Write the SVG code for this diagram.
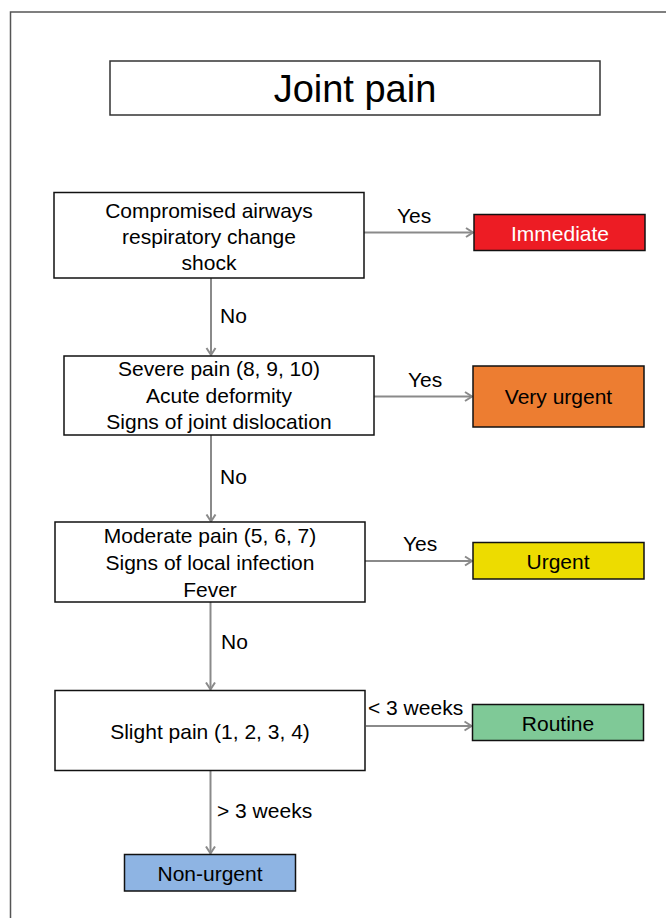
<svg xmlns="http://www.w3.org/2000/svg" width="666" height="918" viewBox="0 0 666 918">
  <style>
    text { font-family: "Liberation Sans", Arial, Helvetica, sans-serif; font-size: 21px; fill: #000; }
    .c { text-anchor: middle; }
    .box { fill: #fff; stroke: #111; stroke-width: 1.5; }
    .out { stroke: #111; stroke-width: 1.5; }
    .conn { stroke: #8a8a8a; stroke-width: 2; fill: none; marker-end: url(#arr); }
    .frame { stroke: #555; stroke-width: 1.5; fill: none; }
  </style>
  <defs>
    <marker id="arr" markerUnits="userSpaceOnUse" markerWidth="10" markerHeight="12" refX="8" refY="6" orient="auto">
      <path d="M1,1.5 L8,6 L1,10.5" fill="none" stroke="#8a8a8a" stroke-width="2"/>
    </marker>
  </defs>
  <rect width="666" height="918" fill="#fff"/>
  <path class="frame" d="M10.5,918 V12 H666"/>

  <g id="title">
    <rect x="110" y="61" width="490" height="54" fill="#fff" stroke="#333" stroke-width="1.5"/>
    <text class="c" x="355" y="102" style="font-size:38px">Joint pain</text>
  </g>

  <g id="connectors">
    <line class="conn" x1="364" y1="232.5" x2="473" y2="232.5"/>
    <line class="conn" x1="211" y1="278" x2="211" y2="355"/>
    <line class="conn" x1="374" y1="396.5" x2="472" y2="396.5"/>
    <line class="conn" x1="211" y1="435" x2="211" y2="521.5"/>
    <line class="conn" x1="365" y1="561" x2="472" y2="561"/>
    <line class="conn" x1="210.5" y1="602" x2="210.5" y2="689.5"/>
    <line class="conn" x1="366" y1="726" x2="471.5" y2="726"/>
    <line class="conn" x1="210.5" y1="770" x2="210.5" y2="853.5"/>
    <text x="397" y="223">Yes</text>
    <text x="220" y="323">No</text>
    <text x="408" y="387">Yes</text>
    <text x="220" y="484">No</text>
    <text x="403" y="551">Yes</text>
    <text x="221" y="649">No</text>
    <text x="368" y="715">&lt; 3 weeks</text>
    <text x="217" y="818">&gt; 3 weeks</text>
  </g>

  <g id="q1">
    <rect class="box" x="54" y="192.5" width="310" height="85.5"/>
    <text class="c" x="209" y="218">Compromised airways</text>
    <text class="c" x="209" y="244">respiratory change</text>
    <text class="c" x="209" y="270">shock</text>
  </g>
  <g id="immediate">
    <rect class="out" x="474" y="214.5" width="171" height="36" fill="#ED1C24"/>
    <text class="c" x="560" y="241" style="fill:#fff">Immediate</text>
  </g>

  <g id="q2">
    <rect class="box" x="64" y="356" width="310" height="79"/>
    <text class="c" x="219" y="376">Severe pain (8, 9, 10)</text>
    <text class="c" x="219" y="403">Acute deformity</text>
    <text class="c" x="219" y="429">Signs of joint dislocation</text>
  </g>
  <g id="very-urgent">
    <rect class="out" x="473" y="366" width="171" height="61" fill="#ED7D31"/>
    <text class="c" x="558.5" y="404">Very urgent</text>
  </g>

  <g id="q3">
    <rect class="box" x="55" y="522" width="310" height="80"/>
    <text class="c" x="210" y="543">Moderate pain (5, 6, 7)</text>
    <text class="c" x="210" y="570">Signs of local infection</text>
    <text class="c" x="210" y="597">Fever</text>
  </g>
  <g id="urgent">
    <rect class="out" x="473" y="542.5" width="171" height="36.5" fill="#EDDC00"/>
    <text class="c" x="558" y="568.5">Urgent</text>
  </g>

  <g id="q4">
    <rect class="box" x="55" y="690.5" width="310" height="80"/>
    <text class="c" x="210" y="738.5">Slight pain (1, 2, 3, 4)</text>
  </g>
  <g id="routine">
    <rect class="out" x="472.5" y="704.5" width="171" height="36" fill="#7FC997"/>
    <text class="c" x="558" y="730.5">Routine</text>
  </g>

  <g id="non-urgent">
    <rect class="out" x="124.5" y="854.5" width="171" height="36.5" fill="#8EB4E3"/>
    <text class="c" x="210" y="881">Non-urgent</text>
  </g>
</svg>
